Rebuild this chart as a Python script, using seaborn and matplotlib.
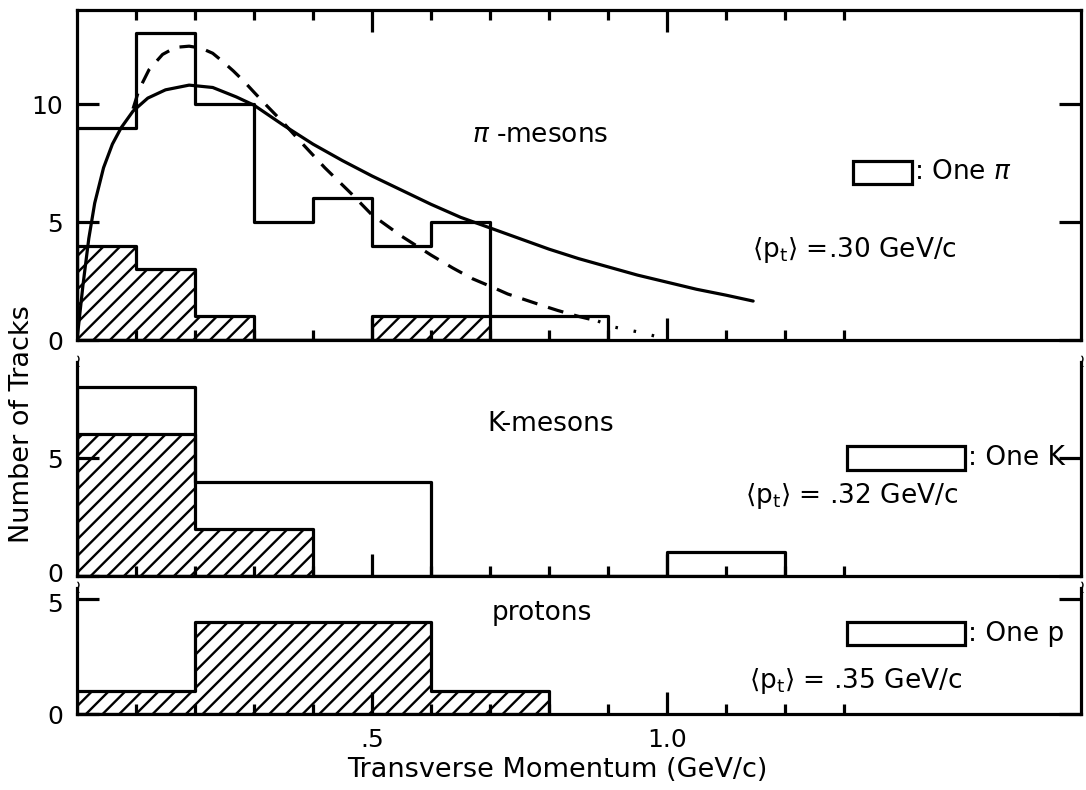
import numpy as np
import pandas as pd
import matplotlib
matplotlib.use("Agg")
import matplotlib.pyplot as plt
import matplotlib.transforms as mtransforms
from matplotlib.patches import Rectangle
from matplotlib.ticker import FixedLocator, FixedFormatter, NullFormatter
import seaborn as sns

# ---------------- data ----------------
# pi-mesons: all tracks (open) and events with one pi (hatched)
pi_edges = [0.0, 0.1, 0.2, 0.3, 0.4, 0.5, 0.6, 0.7, 0.8, 0.9]
pi_all = [9, 13, 10, 5, 6, 4, 5, 1, 1]
pi_one_edges = [0.0, 0.1, 0.2, 0.3, 0.5, 0.7]
pi_one = [4, 3, 1, 0, 1]

# K-mesons
k_edges = [0.0, 0.2, 0.6, 1.0, 1.2]
k_all = [8, 4, 0, 1]
k_one_edges = [0.0, 0.2, 0.4]
k_one = [6, 2]

# protons (all hatched)
p_edges = [0.0, 0.2, 0.6, 0.8]
p_one = [1, 4, 1]

# fitted curves in the pi panel
solid_x = [0.0, 0.01, 0.02, 0.03, 0.045, 0.06, 0.075, 0.095, 0.12, 0.15, 0.19,
           0.23, 0.27, 0.30, 0.35, 0.40, 0.45, 0.50, 0.55, 0.60, 0.65, 0.70,
           0.75, 0.80, 0.85, 0.90, 0.95, 1.00, 1.05, 1.10, 1.146]
solid_y = [0.0, 2.3, 4.3, 5.8, 7.3, 8.3, 9.0, 9.7, 10.25, 10.6, 10.8,
           10.7, 10.3, 9.95, 9.1, 8.3, 7.6, 6.95, 6.35, 5.75, 5.2, 4.75,
           4.3, 3.85, 3.45, 3.1, 2.75, 2.45, 2.15, 1.9, 1.65]
dashed_x = [0.095, 0.105, 0.122, 0.145, 0.167, 0.19, 0.21, 0.23, 0.247, 0.265,
            0.283, 0.30, 0.315, 0.35, 0.379, 0.42, 0.465, 0.50, 0.55, 0.60,
            0.637, 0.67, 0.703, 0.73, 0.76, 0.79, 0.815, 0.85, 0.883]
dashed_y = [9.8, 10.6, 11.45, 12.1, 12.4, 12.45, 12.37, 12.15, 11.8, 11.4,
            10.96, 10.5, 10.1, 9.2, 8.4, 7.3, 6.2, 5.3, 4.4, 3.6,
            3.05, 2.6, 2.25, 1.95, 1.7, 1.45, 1.25, 1.0, 0.8]
dotted_x = [0.883, 0.91, 0.955, 0.99]
dotted_y = [0.8, 0.55, 0.32, 0.1]

panel_names = [r"$\pi$ -mesons", "K-mesons", "protons"]
unit_names = [r": One $\pi$", ": One K", ": One p"]
mean_pt = [r"$\langle\mathrm{p_t}\rangle$ =.30 GeV/c",
           r"$\langle\mathrm{p_t}\rangle$ = .32 GeV/c",
           r"$\langle\mathrm{p_t}\rangle$ = .35 GeV/c"]
unit_width = [0.1, 0.2, 0.2]

x_major = [0.5, 1.0]
x_major_labels = [".5", "1.0"]
x_minor = [0.1, 0.2, 0.3, 0.4, 0.6, 0.7, 0.8, 0.9, 1.1, 1.2, 1.3]
y_ticks = [[0, 5, 10], [0, 5], [0, 5]]

# ---------------- style ----------------
sns.set_style("ticks")
plt.rcParams["font.family"] = ["DejaVu Sans"]
plt.rcParams["hatch.linewidth"] = 1.7
plt.rcParams["axes.linewidth"] = 2.2
for key in ("text.color", "axes.labelcolor", "xtick.color", "ytick.color",
            "axes.edgecolor"):
    plt.rcParams[key] = "black"
LW = 2.3
FS = 19
TFS = 18

fig = plt.figure(figsize=(10.86, 7.90), dpi=100)
W, H = 1086.0, 790.0
left, right = 77, 1081
px_per_gev = 590.0
px_per_count = [23.6, 23.6, 23.0]
panels_px = [(10, 340), (362, 576), (588, 714)]
x_max = (right - left) / px_per_gev
axes = []
y_max = []
for (top, bot), ppc in zip(panels_px, px_per_count):
    ax = fig.add_axes([left / W, 1 - bot / H, (right - left) / W, (bot - top) / H])
    axes.append(ax)
    y_max.append((bot - top) / ppc)


def hist(ax, edges, counts, hatch=None):
    e = [float(v) for v in edges]
    mids = [(a + b) / 2 for a, b in zip(e[:-1], e[1:])]
    df = pd.DataFrame({"pt": mids, "n": [float(c) for c in counts]})
    kw = dict(facecolor="none", edgecolor="black", linewidth=LW)
    if hatch:
        kw["hatch"] = hatch
    sns.histplot(data=df, x="pt", weights="n", bins=e, element="step",
                 fill=True, color="black", ax=ax, **kw)


# pi panel
hist(axes[0], pi_one_edges, pi_one, hatch="//")
hist(axes[0], pi_edges, pi_all)
sns.lineplot(x=solid_x, y=solid_y, ax=axes[0], color="black", lw=LW,
             sort=False, estimator=None)
sns.lineplot(x=dashed_x, y=dashed_y, ax=axes[0], color="black", lw=LW,
             sort=False, estimator=None, linestyle=(0, (5, 3.5)))
sns.lineplot(x=dotted_x, y=dotted_y, ax=axes[0], color="black", lw=LW,
             sort=False, estimator=None, linestyle=(0, (0.8, 5)))

# K panel
hist(axes[1], k_one_edges, k_one, hatch="//")
hist(axes[1], k_edges, k_all)

# proton panel
hist(axes[2], p_edges, p_one, hatch="//")

# text annotations (data coordinates of each panel)
name_pos = [(0.67, 8.7), (0.695, 6.45), (0.703, 4.4)]
box_pos = [(1.315, 6.6), (1.305, 4.5), (1.305, 3.0)]
unit_text_pos = [(1.418, 7.1), (1.51, 4.98), (1.51, 3.48)]
mean_pos = [(1.144, 3.8), (1.132, 3.4), (1.139, 1.45)]

for i, ax in enumerate(axes):
    ax.set_xlim(0, x_max)
    ax.set_ylim(0, y_max[i])
    ax.set_xlabel("")
    ax.set_ylabel("")
    ax.text(*name_pos[i], panel_names[i], ha="left", va="center", fontsize=FS)
    bx, by = box_pos[i]
    ax.add_patch(Rectangle((bx, by), unit_width[i], 1.0, fill=False,
                           lw=LW, ec="black"))
    ax.text(*unit_text_pos[i], unit_names[i], ha="left",
            va="center", fontsize=FS)
    ax.text(*mean_pos[i], mean_pt[i], ha="left", va="center", fontsize=FS)

    ax.xaxis.set_major_locator(FixedLocator(x_major))
    ax.xaxis.set_minor_locator(FixedLocator(x_minor))
    ax.yaxis.set_major_locator(FixedLocator(y_ticks[i]))
    ax.yaxis.set_minor_locator(FixedLocator([]))
    ax.tick_params(axis="y", which="major", direction="in", length=16,
                   width=LW, left=True, right=True, labelleft=True,
                   labelright=False, labelsize=TFS, pad=10)
    ax.tick_params(axis="x", which="major", direction="in", length=16,
                   width=LW, bottom=True, top=(i == 0), labelbottom=(i == 2),
                   labelsize=TFS, pad=10)
    ax.tick_params(axis="x", which="minor", direction="in", length=7,
                   width=LW, bottom=True, top=(i == 0))
    for s in ax.spines.values():
        s.set_linewidth(LW)
        s.set_color("black")
    if i > 0:
        ax.spines["top"].set_visible(False)
        for xa in (0, 1):
            ax.text(xa, 1.0, r"$\wr$", transform=ax.transAxes, ha="center",
                    va="center", fontsize=13, clip_on=False)

axes[2].xaxis.set_major_formatter(FixedFormatter(x_major_labels))
for ax in axes[:2]:
    ax.xaxis.set_major_formatter(NullFormatter())

# keep the crowded "0" (K panel) and "5" (proton panel) labels apart
fig.canvas.draw()
lab0 = axes[1].yaxis.get_major_ticks()[0].label1
lab0.set_transform(lab0.get_transform() +
                   mtransforms.ScaledTranslation(0, 4 / 100, fig.dpi_scale_trans))
lab5 = axes[2].yaxis.get_major_ticks()[1].label1
lab5.set_transform(lab5.get_transform() +
                   mtransforms.ScaledTranslation(0, -4 / 100, fig.dpi_scale_trans))

fig.text(557 / W, 1 - 770 / H, "Transverse Momentum (GeV/c)", ha="center",
         va="center", fontsize=FS + 0.5)
fig.text(22 / W, 1 - 424 / H, "Number of Tracks", ha="center", va="center",
         rotation=90, fontsize=FS + 0.5)

fig.savefig("out.png", dpi=100, facecolor="white")
